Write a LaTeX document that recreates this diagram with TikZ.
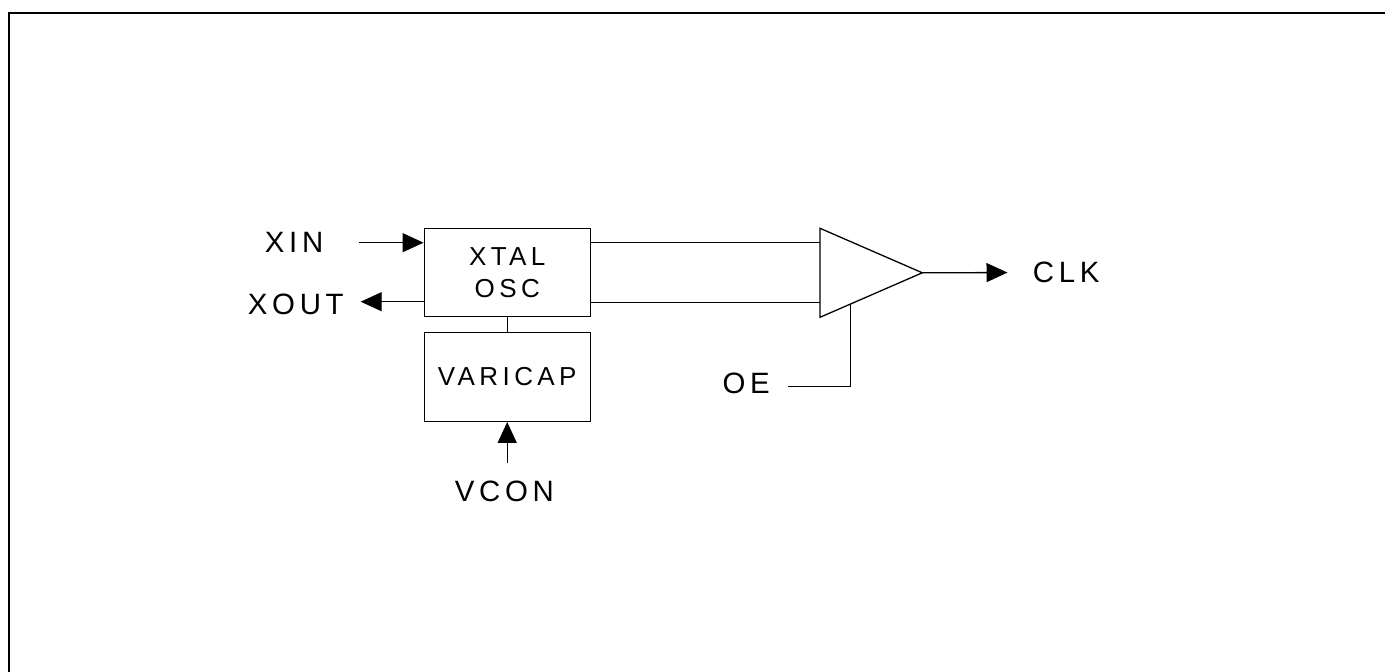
\documentclass[tikz,border=0pt]{standalone}
\usepackage{fontspec}
\setmainfont{Liberation Sans}
\newfontfamily\labfont[LetterSpace=17]{Liberation Sans}
\newfontfamily\pinfont[LetterSpace=16]{Liberation Sans}
\usetikzlibrary{arrows.meta}
\begin{document}
\begin{tikzpicture}[x=0.5pt,y=-0.5pt,
  wire/.style={line width=0.65pt},
  blockbox/.style={draw,line width=0.65pt,minimum width=83pt,minimum height=44.3pt,inner sep=0pt,align=center,font=\labfont\fontsize{13}{15.85}\selectfont},
  pinlabel/.style={inner sep=0pt,font=\pinfont\fontsize{14.7}{16}\selectfont},
  sig/.style={line width=0.65pt,-{Triangle[length=10.5pt,width=9.5pt]}}]
\useasboundingbox (0,0) rectangle (1385,672);
% frame (top and left edges)
\coordinate (fbl) at (8.7,672);
\coordinate (ftl) at (8.7,12.7);
\coordinate (ftr) at (1385,12.7);
\draw[line width=1pt] (fbl) -- (ftl) -- (ftr);
% blocks
\node[blockbox] (xtal) at (507.2,272.5) {XTAL\\OSC};
\node[blockbox,minimum height=44.5pt] (vari) at (507.2,376.8) {VARICAP};
\draw[wire] (xtal.south) -- (vari.north);
% buffer triangle
\coordinate (ta) at (820,228.3);
\coordinate (tb) at (820,317.3);
\coordinate (tc) at (922.3,272.8);
\draw[wire] (ta) -- (tc) -- (tb) -- cycle;
\coordinate (in1) at (820,242.7);
\coordinate (in2) at (820,302.7);
\draw[wire] (xtal.east |- in1) -- (in1);
\draw[wire] (xtal.east |- in2) -- (in2);
% labels
\node[pinlabel,anchor=west] (xin) at (264.5,242.2) {XIN};
\node[pinlabel,anchor=west] (xout) at (247.5,304.5) {XOUT};
\node[pinlabel,anchor=west] (vcon) at (454.5,491.7) {VCON};
\node[pinlabel,anchor=west] (oe) at (722.2,383.7) {OE};
\node[pinlabel,anchor=west] (clk) at (1032.5,272.5) {CLK};
% signals
\coordinate (xinstart) at (359.3,242.7);
\draw[sig] (xinstart) -- (xtal.west |- xinstart);
\coordinate (xoutend) at (360.7,301.7);
\draw[sig] (xtal.west |- xoutend) -- (xoutend);
\coordinate (vconstart) at (507.2,463);
\draw[sig] (vconstart) -- (vari.south);
\draw[sig,shorten >=12.5pt] (tc) -- (clk.west);
\coordinate (oeend) at (788,386.7);
\coordinate (oetri) at (850.7,303.8);
\draw[wire] (oeend) -- (oetri |- oeend) -- (oetri);
\end{tikzpicture}
\end{document}
